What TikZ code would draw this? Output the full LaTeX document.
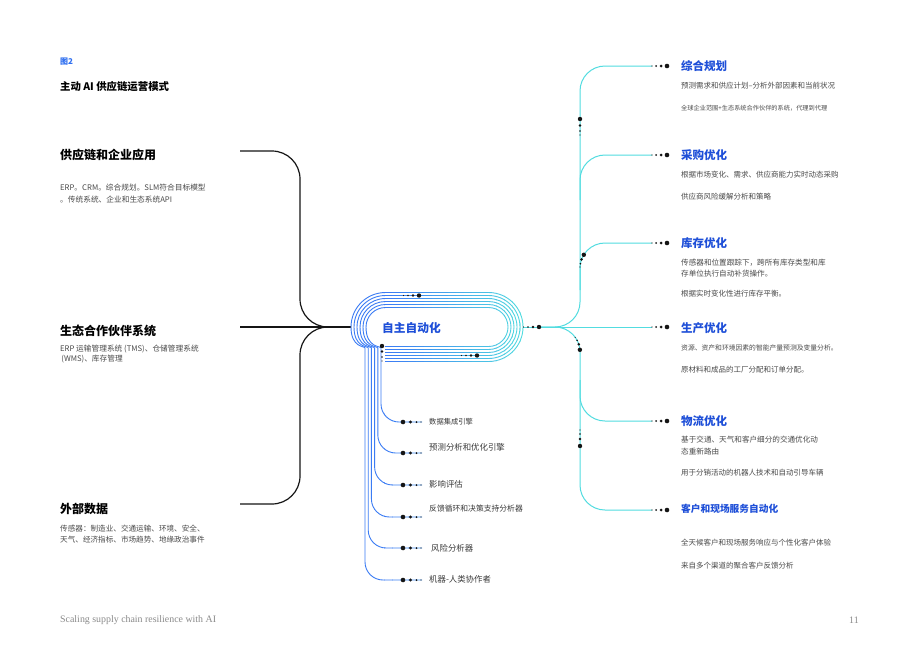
\documentclass[tikz,border=0pt]{standalone}
\usepackage{fontspec}
\setmainfont{Noto Sans CJK SC}
\newfontfamily\footserif{Liberation Serif}
\usetikzlibrary{calc}
\definecolor{cblue}{HTML}{3B7CF4}
\definecolor{ccyan}{HTML}{52DCE0}
\definecolor{hblue}{HTML}{1E4FD8}
\definecolor{figblue}{HTML}{2F6FF0}
\definecolor{gtext}{HTML}{4A4A4A}
\definecolor{dtext}{HTML}{3A3A3A}
\definecolor{ftext}{HTML}{8A8A8A}
\definecolor{blk}{HTML}{151515}
\newcommand\dt[3]{\fill[blk] (#1,#2) circle[radius=#3pt];}
\newcommand\stadiumpaths{%
\foreach \k/\xv/\iy in {0/365/580,1/368.2/548,2/371.4/517,3/374.6/485,4/377.8/453,5/381/422}{%
 \pgfmathsetmacro\myr{34.5-3*\k}%
 \pgfmathsetmacro\myt{327-\myr}%
 \pgfmathsetmacro\myb{327+\myr}%
 \pgfmathsetmacro\myl{385.5-\myr}%
 \pgfmathsetmacro\myright{488.5+\myr}%
 \draw[line width=0.9pt, rounded corners=\myr pt] (385,\myb) -- (\myright,\myb) -- (\myright,\myt) -- (\myl,\myt) -- (\myl,327);
 \draw[line width=0.9pt, rounded corners=18pt] (\myl,327) .. controls (\myl,348) and (\xv,346) .. (\xv,366) -- (\xv,\iy) -- (422,\iy);
}}
\begin{document}
\begin{tikzpicture}[x=1pt,y=-1pt,
  lhead/.style={anchor=west, inner sep=0pt, text=black, font=\bfseries\fontsize{12}{14}\selectfont},
  lbody/.style={anchor=west, inner sep=0pt, align=left, text=gtext, font=\fontsize{7.7}{11.5}\selectfont},
  rhead/.style={anchor=west, inner sep=0pt, text=hblue, font=\bfseries\fontsize{11.5}{13}\selectfont},
  rbody/.style={anchor=west, inner sep=0pt, align=left, text=gtext, font=\fontsize{7.5}{11.5}\selectfont},
  itm/.style={anchor=west, inner sep=0pt, text=dtext, font=\fontsize{8.4}{10}\selectfont},
  blkline/.style={draw=blk, line width=1.2pt},
  tree/.style={draw=ccyan, line width=1pt},
  foot/.style={anchor=west, inner sep=0pt, text=ftext, font=\footserif\fontsize{9.9}{11}\selectfont}]
\useasboundingbox (0,0) rectangle (920,651);
\fill[white] (0,0) rectangle (920,651);

% titles
\node[anchor=west, inner sep=0pt, text=figblue, font=\bfseries\fontsize{8}{10}\selectfont] (fig) at (60,62) {图2};
\node[anchor=west, inner sep=0pt, text=black, font=\bfseries\fontsize{10.4}{12}\selectfont] (title) at (60,87) {主动 AI 供应链运营模式};

% left sections
\node[lhead] (s1) at (60,155) {供应链和企业应用};
\node[lbody, font=\fontsize{7.7}{12}\selectfont] (s1b) at (60,194) {ERP。CRM。综合规划。SLM符合目标模型\\。传统系统、企业和生态系统API};
\node[lhead] (s2) at (60,331) {生态合作伙伴系统};
\node[lbody, font=\fontsize{7.7}{10.5}\selectfont] (s2b) at (60,354) {ERP 运输管理系统 (TMS)、仓储管理系统\\\,(WMS)、库存管理};
\node[lhead] (s3) at (60,509) {外部数据};
\node[lbody, font=\fontsize{7.6}{11}\selectfont] (s3b) at (60,534.5) {传感器：制造业、交通运输、环境、安全、\\天气、经济指标、市场趋势、地缘政治事件};

% anchors for connectors
\coordinate (l1) at (240,151);
\coordinate (l2) at (240,327);
\coordinate (l3) at (240,504);
\coordinate (coreL) at (351,327);
\coordinate (coreR) at (523,327);

\draw[blkline, rounded corners=28pt] (l1) -- (300,151) -- (300,327) -- (coreL);
\draw[blkline] (l2) -- (coreL);
\draw[blkline, rounded corners=28pt] (l3) -- (300,504) -- (300,327) -- (coreL);

% stadium with horizontal colour gradient (strips)
\begin{scope}
  \clip (330,270) rectangle (384.5,600);
  \begin{scope}[color=cblue]\stadiumpaths\end{scope}
\end{scope}
\foreach \i in {0,...,17}{
  \pgfmathsetmacro\xa{384+\i*8}
  \pgfmathsetmacro\xb{\xa+8.5}
  \pgfmathtruncatemacro\pc{\i*100/17}
  \begin{scope}
    \clip (\xa,270) rectangle (\xb,600);
    \begin{scope}[color=ccyan!\pc!cblue]\stadiumpaths\end{scope}
  \end{scope}
}

\node[anchor=west, inner sep=0pt, text=hblue, font=\bfseries\fontsize{11.7}{13}\selectfont] (core) at (382,328) {自主自动化};

% bottom items
\node[itm, font=\fontsize{7.3}{9}\selectfont] (i1) at (429,422) {数据集成引擎};
\node[itm] (i2) at (429,447) {预测分析和优化引擎};
\node[itm] (i3) at (429,484) {影响评估};
\node[itm, font=\fontsize{7.8}{9}\selectfont] (i4) at (429,509) {反馈循环和决策支持分析器};
\node[itm] (i5) at (431,548) {风险分析器};
\node[itm] (i6) at (429,579) {机器-人类协作者};

% right tree
\coordinate (e1) at (652,66);
\coordinate (e2) at (652,155);
\coordinate (e3) at (652,243);
\coordinate (e4) at (652,327);
\coordinate (e5) at (652,421);
\coordinate (e6) at (652,510);
\draw[tree] (coreR) -- (e4);
\draw[tree, rounded corners=25pt] (540,327) -- (580,327) -- (580,66) -- (e1);
\draw[tree, rounded corners=25pt] (540,327) -- (580,327) -- (580,510) -- (e6);
\draw[tree, rounded corners=25pt] (580,200) -- (580,155) -- (e2);
\draw[tree, rounded corners=25pt] (580,290) -- (580,243) -- (e3);
\draw[tree, rounded corners=25pt] (580,380) -- (580,421) -- (e5);

% dot clusters
\foreach \yy in {66,155,243,327,421,510}{\dt{667}{\yy}{2.3}\dt{661}{\yy}{1.5}\dt{656}{\yy}{1}\dt{652}{\yy}{0.6}}
\foreach \yy in {422,453,485,517,548,580}{\dt{403}{\yy}{2.3}\dt{410.5}{\yy}{1.6}\dt{416.5}{\yy}{1}\dt{421}{\yy}{0.6}}
\dt{539}{327}{2.2}\dt{533}{327}{1.4}\dt{528}{327}{0.9}\dt{523.5}{327}{0.55}
\dt{419}{295.5}{2.2}\dt{413}{295.5}{1.4}\dt{408}{295.5}{0.9}\dt{403.5}{295.5}{0.55}
\dt{477}{355.5}{2.2}\dt{471}{355.5}{1.4}\dt{466}{355.5}{0.9}\dt{461.5}{355.5}{0.55}
\dt{382}{346}{2.2}\dt{382}{351.5}{1.4}\dt{382}{357}{0.9}\dt{382}{361}{0.55}
\dt{580}{119}{2.2}\dt{580}{125.5}{1.4}\dt{580}{131}{0.9}\dt{580}{135}{0.55}
\dt{583.8}{254.8}{2.2}\dt{581.5}{259.4}{1.4}\dt{580.4}{263.7}{0.9}\dt{580}{267}{0.55}
\dt{579.9}{349.8}{2.2}\dt{578.8}{344.3}{1.4}\dt{577.1}{340.3}{0.9}\dt{575.2}{337.3}{0.55}
\dt{580}{446}{2.2}\dt{580}{439}{1.4}\dt{580}{434}{0.9}\dt{580}{430}{0.55}

% right texts
\node[rhead] (h1) at (681,66) {综合规划};
\node[rbody] (b1a) at (681,86) {预测需求和供应计划--分析外部因素和当前状况};
\node[rbody, font=\fontsize{6.2}{8}\selectfont] (b1b) at (681,108) {全球企业范围+生态系统合作伙伴的系统，代理到代理};
\node[rhead] (h2) at (681,155) {采购优化};
\node[rbody] (b2a) at (681,175) {根据市场变化、需求、供应商能力实时动态采购};
\node[rbody] (b2b) at (681,197) {供应商风险缓解分析和策略};
\node[rhead] (h3) at (681,243) {库存优化};
\node[rbody, font=\fontsize{7.6}{11}\selectfont] (b3a) at (681,268.5) {传感器和位置跟踪下，跨所有库存类型和库\\存单位执行自动补货操作。};
\node[rbody] (b3b) at (681,294) {根据实时变化性进行库存平衡。};
\node[rhead] (h4) at (681,328) {生产优化};
\node[rbody, font=\fontsize{6.8}{9}\selectfont] (b4a) at (681,348) {资源、资产和环境因素的智能产量预测及变量分析。};
\node[rbody] (b4b) at (681,370) {原材料和成品的工厂分配和订单分配。};
\node[rhead] (h5) at (681,421) {物流优化};
\node[rbody, font=\fontsize{7.6}{12}\selectfont] (b5a) at (681,446) {基于交通、天气和客户细分的交通优化动\\态重新路由};
\node[rbody] (b5b) at (681,473) {用于分销活动的机器人技术和自动引导车辆};
\node[rhead, font=\bfseries\fontsize{9.7}{12}\selectfont] (h6) at (681,509) {客户和现场服务自动化};
\node[rbody] (b6a) at (681,543) {全天候客户和现场服务响应与个性化客户体验};
\node[rbody] (b6b) at (681,566) {来自多个渠道的聚合客户反馈分析};

% footer
\node[foot] (ft) at (60,620) {Scaling supply chain resilience with AI};
\node[foot] (pg) at (849,620) {11};
\end{tikzpicture}
\end{document}
